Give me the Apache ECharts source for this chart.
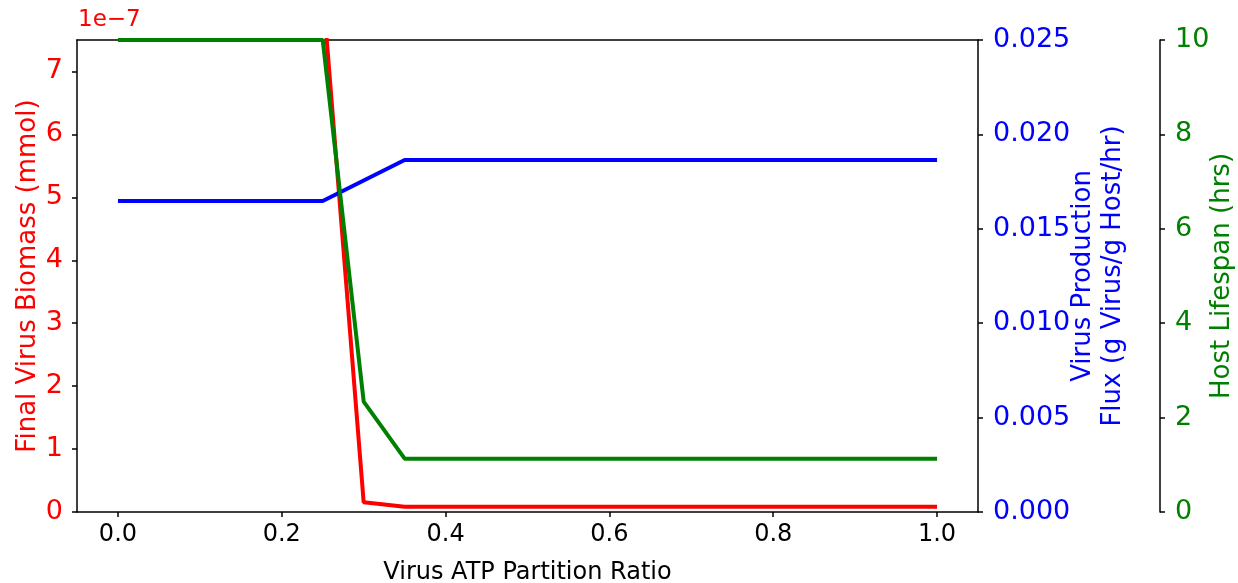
<!DOCTYPE html>
<html>
<head>
<meta charset="utf-8">
<script src="https://cdn.jsdelivr.net/npm/echarts@6/dist/echarts.min.js"></script>
<style>html,body{margin:0;padding:0;background:#fff;}#c{width:1238px;height:583px;}</style>
</head>
<body>
<div id="c"></div>
<script>
const ratio = [0.0,0.05,0.1,0.15,0.2,0.25,0.3,0.35,0.4,0.45,0.5,0.55,0.6,0.65,0.7,0.75,0.8,0.85,0.9,0.95,1.0];
// Final virus biomass in units of 1e-7 mmol
const biomassE7 = [8.3,8.3,8.3,8.3,8.3,8.3,0.154,0.084,0.084,0.084,0.084,0.084,0.084,0.084,0.084,0.084,0.084,0.084,0.084,0.084,0.084];
const productionFlux = [0.01647,0.01647,0.01647,0.01647,0.01647,0.01647,0.01756,0.01864,0.01864,0.01864,0.01864,0.01864,0.01864,0.01864,0.01864,0.01864,0.01864,0.01864,0.01864,0.01864,0.01864];
const hostLifespan = [10,10,10,10,10,10,2.34,1.13,1.13,1.13,1.13,1.13,1.13,1.13,1.13,1.13,1.13,1.13,1.13,1.13,1.13];
const xTicks = [0,0.2,0.4,0.6,0.8,1.0];
const redTicks = [0,1,2,3,4,5,6,7];
const blueTicks = [0,0.005,0.01,0.015,0.02,0.025];
const greenTicks = [0,2,4,6,8,10];

const FONT = 'DejaVu Sans';
const spine = {show:true, onZero:false, lineStyle:{color:'#000', width:1.5}};
const tick = (vals) => ({show:true, inside:false, length:5, lineStyle:{color:'#000', width:1.5}, customValues: vals});

const chart = echarts.init(document.getElementById('c'));
chart.setOption({
  animation:false,
  backgroundColor:'#fff',
  grid:{left:77, right:260, top:40, bottom:71, containLabel:false, outerBoundsMode:'none'},
  xAxis:[{
    type:'value', min:-0.05, max:1.05, position:'bottom',
    axisLine:spine, axisTick:tick(xTicks),
    axisLabel:{customValues:xTicks, color:'#000', fontFamily:FONT, fontSize:24, margin:11,
      formatter:(v)=>v.toFixed(1)},
    splitLine:{show:false},
    name:'Virus ATP Partition Ratio', nameLocation:'middle', nameGap:49, nameMoveOverlap:false,
    nameTextStyle:{color:'#000', fontFamily:FONT, fontSize:24}
  },{
    type:'value', min:-0.05, max:1.05, position:'top',
    axisLine:spine, axisTick:{show:false}, axisLabel:{show:false}, splitLine:{show:false}
  }],
  yAxis:[{
    type:'value', min:0, max:7.5, position:'left',
    axisLine:spine, axisTick:tick(redTicks),
    axisLabel:{customValues:redTicks, color:'red', fontFamily:FONT, fontSize:27, margin:14},
    splitLine:{show:false},
    name:'Final Virus Biomass (mmol)', nameLocation:'middle', nameGap:36, nameRotate:90, nameMoveOverlap:false,
    nameTextStyle:{color:'red', fontFamily:FONT, fontSize:26}
  },{
    type:'value', min:0, max:0.025, position:'right',
    axisLine:spine, axisTick:tick(blueTicks),
    axisLabel:{customValues:blueTicks, color:'blue', fontFamily:FONT, fontSize:27, margin:15,
      formatter:(v)=>v.toFixed(3)},
    splitLine:{show:false},
    name:'Virus Production\nFlux (g Virus/g Host/hr)', nameLocation:'middle', nameGap:90, nameRotate:90, nameMoveOverlap:false,
    nameTextStyle:{color:'blue', fontFamily:FONT, fontSize:26, lineHeight:30}
  },{
    type:'value', min:0, max:10, position:'right', offset:182,
    axisLine:spine, axisTick:tick(greenTicks),
    axisLabel:{customValues:greenTicks, color:'green', fontFamily:FONT, fontSize:27, margin:15},
    splitLine:{show:false},
    name:'Host Lifespan (hrs)', nameLocation:'middle', nameGap:49, nameRotate:90, nameMoveOverlap:false,
    nameTextStyle:{color:'green', fontFamily:FONT, fontSize:26}
  }],
  graphic:[{
    type:'text', left:78, top:9,
    style:{text:'1e\u22127', fill:'red', font:'23px "DejaVu Sans"'}
  }],
  series:[{
    type:'line', name:'biomass', xAxisIndex:0, yAxisIndex:0,
    data: ratio.map((x,i)=>[x, biomassE7[i]]),
    showSymbol:false, clip:true, lineStyle:{color:'red', width:4}, itemStyle:{color:'red'}
  },{
    type:'line', name:'flux', xAxisIndex:0, yAxisIndex:1,
    data: ratio.map((x,i)=>[x, productionFlux[i]]),
    showSymbol:false, clip:true, lineStyle:{color:'blue', width:4}, itemStyle:{color:'blue'}
  },{
    type:'line', name:'lifespan', xAxisIndex:0, yAxisIndex:2,
    data: ratio.map((x,i)=>[x, hostLifespan[i]]),
    showSymbol:false, clip:true, lineStyle:{color:'green', width:4}, itemStyle:{color:'green'}
  }]
});
</script>
</body>
</html>
